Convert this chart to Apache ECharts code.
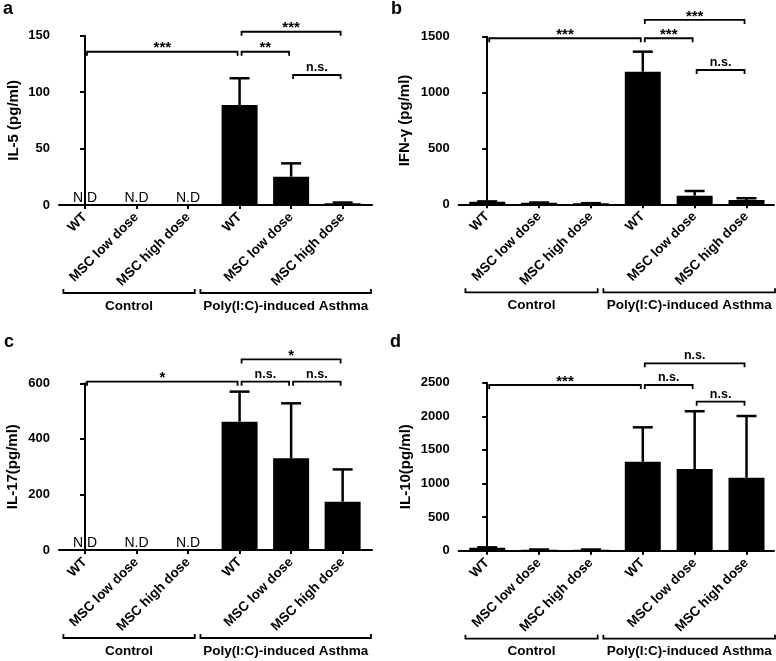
<!DOCTYPE html>
<html><head><meta charset="utf-8">
<script src="https://cdn.jsdelivr.net/npm/echarts@6/dist/echarts.min.js"></script>
<style>html,body{margin:0;padding:0;background:#fff}#c{width:776px;height:661px}</style>
</head><body><div id="c"></div>
<script>
// ---- data ----
const categories = ['WT', 'MSC low dose', 'MSC high dose', 'WT', 'MSC low dose', 'MSC high dose'];
const groupLabels = ['Control', 'Poly(I:C)-induced Asthma'];
const groupFrom = [-0.42, 2.24];
const groupTo = [2.13, 5.55];

const il5Mean = [null, null, null, 88.6, 25.1, 1.5];
const il5Err = [null, null, null, 23.7, 11.8, 0.7];
const ifngMean = [23, 14, 9, 1187, 77, 38];
const ifngErr = [3, 2, 1, 179, 42, 16];
const il17Mean = [null, null, null, 462, 330, 174];
const il17Err = [null, null, null, 108, 198, 116];
const il10Mean = [45, 15, 15, 1324, 1216, 1086];
const il10Err = [5, 3, 3, 512, 859, 918];

// significance brackets: [from, to, level, label]
const il5Sig = [[0, 3, 135.8, '***'], [3, 4, 135.8, '**'], [3, 5, 153.5, '***'], [4, 5, 115.2, 'n.s.']];
const ifngSig = [[0, 3, 1486, '***'], [3, 4, 1486, '***'], [3, 5, 1650, '***'], [4, 5, 1202, 'n.s.']];
const il17Sig = [[0, 3, 605.8, '*'], [3, 4, 605.8, 'n.s.'], [3, 5, 686, '*'], [4, 5, 605.8, 'n.s.']];
const il10Sig = [[0, 3, 2466, '***'], [3, 4, 2466, 'n.s.'], [3, 5, 2789, 'n.s.'], [4, 5, 2217, 'n.s.']];

const yMaxes = [150, 1500, 600, 2500];
const yIntervals = [50, 500, 200, 500];
const yNames = ['IL-5 (pg/ml)', 'IFN-\u03b3 (pg/ml)', 'IL-17(pg/ml)', 'IL-10(pg/ml)'];
const panelLetters = ['a', 'b', 'c', 'd'];

// ---- layout ----
const FONT = '"Liberation Sans", Arial, sans-serif';
const grids = [
  { left: 59, top: 35.7, width: 313, height: 169.3 },
  { left: 458.7, top: 36.7, width: 315.3, height: 167.6 },
  { left: 59, top: 383.3, width: 313, height: 166.7 },
  { left: 458.7, top: 382.7, width: 315.3, height: 168 }
];
const xRanges = [[-0.505, 5.57], [-0.55, 5.53], [-0.505, 5.57], [-0.55, 5.53]];
const nameGaps = [38, 46, 39, 45];
const letterPos = [[3, 15], [391, 15], [4, 348], [390, 348]];

const means = [il5Mean, ifngMean, il17Mean, il10Mean];
const errs = [il5Err, ifngErr, il17Err, il10Err];
const sigs = [il5Sig, ifngSig, il17Sig, il10Sig];

const option = {
  animation: false,
  backgroundColor: '#fff',
  textStyle: { fontFamily: FONT },
  grid: grids,
  xAxis: [], yAxis: [], series: [],
  graphic: panelLetters.map((l, i) => ({
    type: 'text', x: letterPos[i][0], y: letterPos[i][1] + 3.5,
    style: { text: l, font: 'bold 18px ' + FONT, fill: '#000', verticalAlign: 'bottom' }
  }))
};

for (let p = 0; p < 4; p++) {
  option.xAxis.push({
    type: 'value', gridIndex: p, min: xRanges[p][0], max: xRanges[p][1],
    splitLine: { show: false },
    axisLine: { show: true, onZero: false, lineStyle: { color: '#000', width: 2 } },
    axisTick: { show: true, customValues: [0, 1, 2, 3, 4, 5], length: 4, lineStyle: { color: '#000', width: 2 } },
    axisLabel: {
      customValues: [0, 1, 2, 3, 4, 5], rotate: 45, margin: 10,
      formatter: v => categories[Math.round(v)],
      color: '#000', fontWeight: 'bold', fontSize: 13.5, fontFamily: FONT
    }
  });
  option.yAxis.push({
    type: 'value', gridIndex: p, min: 0, max: yMaxes[p], interval: yIntervals[p],
    name: yNames[p], nameLocation: 'middle', nameGap: nameGaps[p],
    nameTextStyle: { color: '#000', fontWeight: 'bold', fontSize: 15, fontFamily: FONT },
    splitLine: { show: false },
    axisLine: { show: true, lineStyle: { color: '#000', width: 2 } },
    axisTick: { show: true, length: 5, lineStyle: { color: '#000', width: 2 } },
    axisLabel: { color: '#000', fontWeight: 'bold', fontSize: 13, margin: 9, fontFamily: FONT, formatter: v => String(v) }
  });

  const mean = means[p], err = errs[p], sig = sigs[p];

  option.series.push({
    type: 'bar', xAxisIndex: p, yAxisIndex: p, barWidth: 36,
    itemStyle: { color: '#000' },
    data: mean.map((v, i) => (v == null ? null : [i, v])).filter(d => d)
  });

  option.series.push({
    type: 'custom', xAxisIndex: p, yAxisIndex: p, clip: false,
    encode: { x: 0, y: 1 },
    data: mean.map((v, i) => (v == null ? null : [i, v, err[i]])).filter(d => d),
    renderItem: (params, api) => {
      const x = api.value(0), m = api.value(1), e = api.value(2);
      const p0 = api.coord([x, m]), p1 = api.coord([x, m + e]);
      return {
        type: 'group', children: [
          { type: 'line', shape: { x1: p0[0], y1: p0[1], x2: p1[0], y2: p1[1] }, style: { stroke: '#000', lineWidth: 2.5 } },
          { type: 'line', shape: { x1: p1[0] - 10, y1: p1[1], x2: p1[0] + 10, y2: p1[1] }, style: { stroke: '#000', lineWidth: 2.5 } }
        ]
      };
    }
  });

  // N.D markers for not-detected groups
  option.series.push({
    type: 'custom', xAxisIndex: p, yAxisIndex: p, clip: false,
    encode: { x: 0, y: 1 },
    data: mean.map((v, i) => (v == null ? [i, 0] : null)).filter(d => d),
    renderItem: (params, api) => {
      const pt = api.coord([api.value(0), api.value(1)]);
      return {
        type: 'text', x: pt[0], y: pt[1],
        style: { text: 'N.D', font: '14px ' + FONT, fill: '#000', align: 'center', verticalAlign: 'bottom' }
      };
    }
  });

  // significance brackets
  option.series.push({
    type: 'custom', xAxisIndex: p, yAxisIndex: p, clip: false,
    encode: { x: 0, y: 2 },
    data: sig.map(s => [s[0], s[1], s[2]]),
    renderItem: (params, api) => {
      const a = api.coord([api.value(0), api.value(2)]);
      const b = api.coord([api.value(1), api.value(2)]);
      const lab = sig[params.dataIndex][3];
      const star = lab.indexOf('*') >= 0;
      return {
        type: 'group', children: [
          { type: 'polyline', shape: { points: [[a[0] + 2, a[1] + 4], [a[0] + 2, a[1]], [b[0] - 2, b[1]], [b[0] - 2, b[1] + 4]] },
            style: { stroke: '#000', lineWidth: 1.8, fill: null } },
          { type: 'text', x: (a[0] + b[0]) / 2, y: a[1] + (star ? 4 : -1),
            style: { text: lab, font: 'bold ' + (star ? 15 : 12.5) + 'px ' + FONT, fill: '#000', align: 'center', verticalAlign: 'bottom' } }
        ]
      };
    }
  });

  // group brackets under the axis
  option.series.push({
    type: 'custom', xAxisIndex: p, yAxisIndex: p, clip: false,
    encode: { x: 0, y: 1 },
    data: groupFrom.map((f, i) => [f, 0, groupTo[i]]),
    renderItem: (params, api) => {
      const a = api.coord([api.value(0), 0]);
      const b = api.coord([api.value(2), 0]);
      const y = a[1] + 88;
      return {
        type: 'group', children: [
          { type: 'polyline', shape: { points: [[a[0], y - 4], [a[0], y], [b[0], y], [b[0], y - 4]] },
            style: { stroke: '#000', lineWidth: 1.8, fill: null } },
          { type: 'text', x: (a[0] + b[0]) / 2, y: y + 13,
            style: { text: groupLabels[params.dataIndex], font: 'bold 13.5px ' + FONT, fill: '#000', align: 'center', verticalAlign: 'middle' } }
        ]
      };
    }
  });
}

const chart = echarts.init(document.getElementById('c'), null, { renderer: 'canvas' });
chart.setOption(option);
</script></body></html>
